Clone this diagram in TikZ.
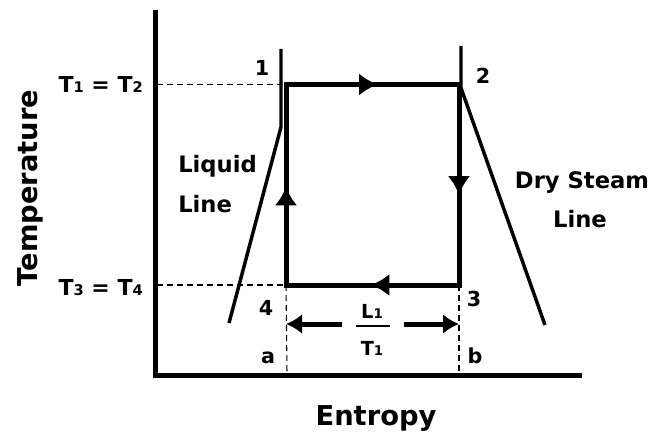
\documentclass[tikz,border=0pt]{standalone}
\usepackage{fontspec}
\setmainfont{DejaVu Sans}
\usetikzlibrary{arrows.meta,decorations.markings}
\newcommand{\sbs}[1]{{\fontsize{11}{11}\selectfont #1}}
\newcommand{\sbf}[1]{{\fontsize{10}{10}\selectfont #1}}
\begin{document}
\begin{tikzpicture}[x=0.75pt,y=-0.75pt,
  axis/.style={line width=3.75pt},
  cyc/.style={line width=3.75pt, line cap=rect},
  satline/.style={line width=2.6pt},
  guide/.style={line width=0.8pt, dash pattern=on 4.5pt off 3pt},
  dimarrow/.style={line width=3.75pt, -{Latex[length=12pt,width=15pt]}},
  midarrow/.style={postaction={decorate, decoration={markings,
      mark=at position #1 with {\arrow{Latex[length=14pt,width=17pt]}}}}},
  big/.style={font=\bfseries\fontsize{20.5}{24}\selectfont, inner sep=0pt},
  mid/.style={font=\bfseries\fontsize{17}{20}\selectfont, inner sep=0pt},
  num/.style={font=\bfseries\fontsize{15.5}{18}\selectfont, inner sep=0pt},
  tlab/.style={font=\bfseries\fontsize{16.5}{19}\selectfont, inner sep=0pt},
  frac/.style={font=\bfseries\fontsize{14.5}{17}\selectfont, inner sep=0pt}]
\useasboundingbox (0,0) rectangle (656,435);

% axes
\coordinate (otop) at (155,10);
\coordinate (orig) at (155,375);
\coordinate (oright) at (582,375);
\draw[axis] (otop) -- (orig) -- (oright);

% cycle states
\coordinate (s1) at (286,84.5);
\coordinate (s2) at (459,84.5);
\coordinate (s3) at (459,285);
\coordinate (s4) at (286,285);

% guide lines
\coordinate (yT12) at (157,84.5);
\coordinate (yT34) at (157,285);
\coordinate (xa) at (287,373);
\coordinate (xb) at (459,373);
\draw[guide] (yT12) -- (s1);
\draw[guide] (yT34) -- (s4);
\draw[guide] (s4) -- (xa);
\draw[guide] (s3) -- (xb);

% saturation lines
\coordinate (liqTop) at (281,49);
\coordinate (liqBend) at (281,127);
\coordinate (liqEnd) at (229,323);
\draw[satline] (liqTop) -- (liqBend) -- (liqEnd);
\coordinate (dryTop) at (461,46);
\coordinate (dryBend) at (461,88);
\coordinate (dryEnd) at (545,325);
\draw[satline] (dryTop) -- (dryBend) -- (dryEnd);

% cycle
\draw[cyc, midarrow=0.53] (s1) -- (s2);
\draw[cyc, midarrow=0.55] (s2) -- (s3);
\draw[cyc, midarrow=0.51] (s3) -- (s4);
\draw[cyc, midarrow=0.49] (s4) -- (s1);

% dimension arrows
\coordinate (dl0) at (342,324);
\coordinate (dl1) at (286,324);
\coordinate (dr0) at (404,324);
\coordinate (dr1) at (459,324);
\draw[dimarrow] (dl0) -- (dl1);
\draw[dimarrow] (dr0) -- (dr1);
\node[frac, anchor=base] (fL) at (372,318) {L\sbf{1}};
\coordinate (barL) at (356,326);
\coordinate (barR) at (390,326);
\draw[line width=1pt] (barL) -- (barR);
\node[frac, anchor=base] (fT) at (372,355) {T\sbf{1}};

% point labels
\node[num] (n1) at (262,68) {1};
\node[num] (n2) at (483,76) {2};
\node[num] (n3) at (474,299) {3};
\node[num] (n4) at (266,308) {4};
\node[num, anchor=base] (na) at (268,363) {a};
\node[num, anchor=base] (nb) at (475,363) {b};

% temperature labels
\node[tlab, anchor=base east] (t12) at (143,93) {T\sbs{1} = T\sbs{2}};
\node[tlab, anchor=base east] (t34) at (143,295) {T\sbs{3} = T\sbs{4}};

% line labels
\node[mid, anchor=base west] (liq1) at (178,172) {Liquid};
\node[mid, anchor=base west] (liq2) at (178,212) {Line};
\node[mid, anchor=base] (dry1) at (582,188) {Dry Steam};
\node[mid, anchor=base] (dry2) at (580,227) {Line};

% axis titles
\node[big, anchor=base, rotate=90] (ylab) at (37,188) {Temperature};
\node[big, anchor=base] (xlab) at (376,425) {Entropy};
\end{tikzpicture}
\end{document}
